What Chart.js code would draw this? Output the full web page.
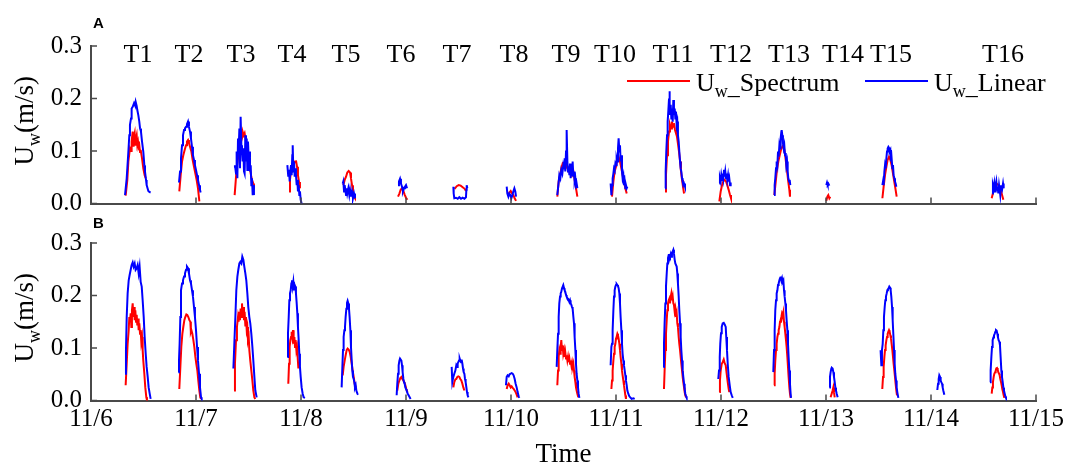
<!DOCTYPE html>
<html><head><meta charset="utf-8">
<script src="https://cdn.jsdelivr.net/npm/chart.js@4.4.1/dist/chart.umd.min.js"></script>
<style>
html,body{margin:0;padding:0;background:#fff;width:1072px;height:468px;overflow:hidden}
canvas{position:absolute;left:0;display:block}
#ca{top:0}#cb{top:210px}
</style></head><body>
<canvas id="ca" width="1072" height="230"></canvas>
<canvas id="cb" width="1072" height="258"></canvas>
<script>
// ---- labels ----
const dateLabels = ['11/6','11/7','11/8','11/9','11/10','11/11','11/12','11/13','11/14','11/15'];
const yTickValues = [0, 0.1, 0.2, 0.3];
const yTickLabels = ['0.0','0.1','0.2','0.3'];
const tideLabels = ['T1','T2','T3','T4','T5','T6','T7','T8','T9','T10','T11','T12','T13','T14','T15','T16'];
const tidePos = [0.448,0.933,1.429,1.914,2.429,2.952,3.486,4.029,4.524,4.990,5.543,6.095,6.648,7.162,7.619,8.686];
const seriesNames = ['Spectrum','Linear'];
const xTitle = 'Time';

// ---- data: [days since 11/6 00:00, Uw (m/s)], one sub-array per tidal cycle ----
const aLinear = [
 [[0.324,.016],[0.340,.048],[0.356,.099],[0.365,.130],[0.371,.150],[0.381,.162],[0.387,.181],[0.397,.184],[0.410,.191],[0.419,.187],[0.425,.194],[0.435,.186],[0.441,.178],[0.451,.168],[0.460,.156],[0.467,.143],[0.476,.137],[0.486,.118],[0.498,.099],[0.508,.073],[0.514,.061],[0.524,.045],[0.530,.035],[0.540,.028],[0.546,.024],[0.556,.022],[0.568,.021]],
 [[0.838,.040],[0.848,.061],[0.857,.086],[0.867,.111],[0.876,.130],[0.886,.140],[0.895,.143],[0.905,.146],[0.914,.151],[0.924,.156],[0.933,.146],[0.943,.137],[0.952,.124],[0.962,.108],[0.971,.092],[0.981,.083],[0.990,.073],[1.000,.064],[1.010,.054],[1.019,.045],[1.029,.035],[1.038,.026],[1.044,.021]],
 [[1.362,.070],[1.371,.073],[1.381,.057],[1.387,.099],[1.394,.048],[1.400,.124],[1.406,.099],[1.413,.143],[1.419,.067],[1.425,.165],[1.432,.111],[1.438,.099],[1.444,.080],[1.451,.105],[1.457,.061],[1.463,.057],[1.470,.130],[1.476,.080],[1.483,.124],[1.489,.064],[1.495,.118],[1.502,.086],[1.508,.099],[1.514,.061],[1.521,.073],[1.527,.035],[1.533,.048],[1.540,.016],[1.546,.035],[1.552,.016]],
 [[1.870,.073],[1.879,.051],[1.886,.064],[1.892,.042],[1.898,.061],[1.905,.073],[1.911,.054],[1.917,.092],[1.921,.111],[1.927,.061],[1.933,.080],[1.940,.051],[1.946,.067],[1.952,.054],[1.959,.035],[1.965,.045],[1.971,.023],[1.978,.035],[1.984,.016],[1.990,.023],[1.997,.007],[2.006,.000]],
 [[2.397,.038],[2.403,.042],[2.410,.023],[2.416,.035],[2.422,.026],[2.429,.016],[2.435,.029],[2.441,.019],[2.451,.029],[2.460,.016],[2.467,.026],[2.476,.013],[2.486,.023],[2.495,.010],[2.505,.019],[2.514,.010]],
 [[2.924,.035],[2.933,.042],[2.943,.047],[2.952,.038],[2.962,.032],[2.971,.023],[2.981,.029],[2.990,.032],[3.000,.035],[3.010,.029]],
 [[3.451,.032],[3.454,.019],[3.460,.010],[3.476,.011],[3.492,.009],[3.508,.012],[3.524,.009],[3.540,.011],[3.556,.009],[3.571,.012],[3.575,.026],[3.578,.035],[3.584,.029]],
 [[3.959,.032],[3.965,.019],[3.975,.013],[3.984,.019],[3.994,.016],[4.003,.010],[4.013,.016],[4.022,.023],[4.032,.029],[4.041,.023],[4.048,.013]],
 [[4.441,.016],[4.451,.035],[4.460,.054],[4.470,.048],[4.479,.064],[4.489,.057],[4.498,.073],[4.505,.067],[4.511,.086],[4.517,.061],[4.524,.099],[4.530,.140],[4.537,.080],[4.543,.061],[4.549,.070],[4.556,.054],[4.562,.076],[4.568,.048],[4.575,.073],[4.581,.054],[4.587,.080],[4.594,.051],[4.600,.061],[4.606,.042],[4.613,.048],[4.619,.035],[4.625,.038],[4.632,.029]],
 [[4.949,.038],[4.956,.016],[4.962,.035],[4.968,.048],[4.975,.057],[4.981,.067],[4.987,.064],[4.994,.076],[5.000,.073],[5.006,.086],[5.013,.080],[5.019,.105],[5.025,.124],[5.032,.099],[5.038,.111],[5.044,.080],[5.051,.092],[5.057,.061],[5.063,.048],[5.070,.054],[5.076,.035],[5.083,.042],[5.089,.029],[5.095,.035],[5.102,.029],[5.108,.032]],
 [[5.467,.029],[5.473,.061],[5.479,.099],[5.486,.130],[5.492,.156],[5.498,.175],[5.505,.200],[5.508,.214],[5.514,.169],[5.521,.188],[5.527,.162],[5.533,.181],[5.540,.156],[5.546,.197],[5.552,.169],[5.559,.181],[5.565,.162],[5.571,.175],[5.578,.150],[5.584,.156],[5.590,.130],[5.597,.118],[5.603,.099],[5.610,.080],[5.616,.067],[5.622,.061],[5.629,.048],[5.635,.042],[5.641,.035],[5.648,.038],[5.657,.032]],
 [[5.984,.038],[5.990,.048],[5.997,.042],[6.003,.054],[6.010,.045],[6.016,.057],[6.022,.048],[6.029,.064],[6.035,.051],[6.041,.061],[6.048,.048],[6.054,.057],[6.060,.045],[6.067,.054],[6.073,.042],[6.079,.048],[6.086,.035],[6.092,.040]],
 [[6.505,.016],[6.511,.035],[6.517,.048],[6.524,.067],[6.530,.080],[6.537,.073],[6.543,.099],[6.549,.089],[6.556,.111],[6.562,.105],[6.568,.124],[6.575,.137],[6.578,.140],[6.584,.130],[6.590,.115],[6.597,.105],[6.603,.111],[6.610,.092],[6.616,.096],[6.622,.073],[6.629,.080],[6.635,.061],[6.641,.048],[6.648,.042],[6.654,.045],[6.660,.035],[6.663,.035]],
 [[7.003,.035],[7.010,.040],[7.016,.036],[7.022,.038],[7.032,.034]],
 [[7.537,.035],[7.543,.042],[7.549,.035],[7.556,.061],[7.562,.073],[7.568,.067],[7.575,.086],[7.581,.099],[7.587,.105],[7.594,.108],[7.600,.106],[7.606,.099],[7.613,.102],[7.619,.080],[7.625,.086],[7.632,.067],[7.638,.073],[7.644,.054],[7.651,.048],[7.657,.042],[7.663,.038],[7.670,.032]],
 [[8.584,.019],[8.590,.035],[8.597,.029],[8.603,.038],[8.610,.023],[8.616,.035],[8.622,.042],[8.629,.026],[8.635,.032],[8.641,.019],[8.648,.035],[8.654,.026],[8.660,.016],[8.667,.032],[8.673,.035],[8.679,.029],[8.686,.038],[8.692,.029]]
];
const aSpectrum = [
 [[0.330,.015],[0.346,.045],[0.356,.080],[0.371,.105],[0.381,.100],[0.387,.118],[0.397,.137],[0.403,.110],[0.406,.125],[0.416,.134],[0.422,.112],[0.425,.121],[0.435,.130],[0.441,.112],[0.448,.118],[0.454,.108],[0.460,.111],[0.467,.098],[0.473,.102],[0.486,.086],[0.498,.067],[0.511,.054],[0.521,.048]],
 [[0.841,.023],[0.854,.054],[0.867,.080],[0.879,.092],[0.892,.102],[0.905,.111],[0.914,.118],[0.924,.121],[0.933,.115],[0.943,.108],[0.956,.099],[0.968,.083],[0.981,.070],[0.994,.057],[1.006,.045],[1.019,.029],[1.032,.004]],
 [[1.368,.016],[1.378,.042],[1.387,.067],[1.400,.086],[1.413,.099],[1.425,.115],[1.438,.124],[1.444,.137],[1.454,.130],[1.463,.134],[1.473,.121],[1.483,.105],[1.495,.089],[1.508,.073],[1.521,.057],[1.533,.045],[1.546,.038],[1.552,.035]],
 [[1.886,.023],[1.895,.045],[1.905,.061],[1.914,.067],[1.924,.073],[1.933,.076],[1.943,.080],[1.952,.082],[1.962,.070],[1.971,.054],[1.981,.041],[1.990,.029]],
 [[2.403,.035],[2.416,.045],[2.429,.051],[2.441,.059],[2.454,.062],[2.467,.059],[2.476,.048],[2.486,.035],[2.495,.022],[2.505,.013],[2.514,.010]],
 [[2.924,.013],[2.937,.019],[2.949,.026],[2.962,.029],[2.975,.024],[2.987,.017],[3.000,.011],[3.013,.007]],
 [[3.463,.028],[3.483,.033],[3.502,.035],[3.521,.034],[3.540,.031],[3.559,.028],[3.571,.024]],
 [[3.972,.016],[3.984,.021],[3.997,.024],[4.010,.019],[4.022,.016],[4.035,.010],[4.048,.005]],
 [[4.441,.013],[4.454,.042],[4.467,.054],[4.479,.067],[4.492,.076],[4.505,.073],[4.517,.067],[4.530,.073],[4.543,.064],[4.556,.070],[4.568,.062],[4.581,.054],[4.594,.061],[4.606,.045],[4.619,.029],[4.632,.013]],
 [[4.962,.013],[4.975,.042],[4.987,.061],[5.000,.070],[5.013,.083],[5.025,.089],[5.038,.080],[5.051,.067],[5.063,.054],[5.076,.042],[5.089,.029],[5.102,.019]],
 [[5.467,.023],[5.476,.054],[5.486,.092],[5.495,.118],[5.505,.137],[5.514,.150],[5.524,.143],[5.533,.156],[5.543,.146],[5.552,.153],[5.562,.140],[5.571,.134],[5.581,.127],[5.590,.114],[5.600,.099],[5.610,.080],[5.619,.061],[5.629,.045],[5.638,.032],[5.648,.019]],
 [[5.984,.004],[5.997,.023],[6.010,.035],[6.022,.042],[6.035,.045],[6.048,.042],[6.060,.035],[6.073,.026],[6.086,.016],[6.095,.010]],
 [[6.508,.016],[6.521,.041],[6.533,.064],[6.546,.080],[6.559,.092],[6.571,.102],[6.584,.108],[6.594,.111],[6.603,.102],[6.613,.089],[6.622,.073],[6.632,.057],[6.641,.041],[6.651,.026],[6.657,.013]],
 [[7.003,.005],[7.013,.013],[7.022,.016],[7.032,.010],[7.041,.013]],
 [[7.537,.010],[7.549,.032],[7.562,.054],[7.575,.070],[7.587,.083],[7.600,.089],[7.613,.083],[7.625,.073],[7.638,.057],[7.651,.041],[7.663,.026],[7.673,.013]],
 [[8.578,.010],[8.594,.023],[8.610,.032],[8.625,.038],[8.641,.035],[8.657,.029],[8.673,.019],[8.689,.007]]
];
const bLinear = [
 [[0.324,.051],[0.333,.096],[0.340,.159],[0.349,.204],[0.359,.229],[0.368,.239],[0.378,.249],[0.387,.258],[0.397,.263],[0.406,.255],[0.416,.261],[0.425,.249],[0.435,.252],[0.444,.258],[0.454,.242],[0.463,.255],[0.473,.226],[0.483,.217],[0.492,.191],[0.502,.159],[0.511,.121],[0.521,.089],[0.530,.064],[0.540,.045],[0.549,.025],[0.559,.013],[0.568,.003]],
 [[0.832,.054],[0.838,.076],[0.844,.108],[0.851,.159],[0.857,.210],[0.867,.223],[0.876,.229],[0.886,.236],[0.895,.242],[0.905,.249],[0.914,.255],[0.924,.252],[0.933,.242],[0.943,.229],[0.952,.223],[0.962,.210],[0.971,.198],[0.981,.178],[0.990,.159],[1.000,.134],[1.010,.102],[1.019,.076],[1.029,.051],[1.038,.025],[1.048,.006],[1.054,.003]],
 [[1.356,.061],[1.365,.108],[1.375,.159],[1.384,.210],[1.394,.236],[1.403,.249],[1.413,.261],[1.422,.264],[1.432,.261],[1.441,.274],[1.451,.268],[1.460,.255],[1.470,.242],[1.479,.229],[1.489,.204],[1.498,.178],[1.508,.159],[1.517,.147],[1.527,.127],[1.537,.102],[1.546,.076],[1.556,.045],[1.565,.019],[1.578,.006]],
 [[1.870,.083],[1.876,.127],[1.883,.159],[1.889,.191],[1.895,.204],[1.902,.210],[1.908,.223],[1.914,.229],[1.921,.217],[1.927,.226],[1.933,.210],[1.940,.220],[1.946,.217],[1.952,.204],[1.959,.185],[1.965,.166],[1.971,.140],[1.978,.115],[1.984,.089],[1.990,.064],[1.997,.045],[2.006,.025],[2.016,.013],[2.025,.006],[2.038,.005]],
 [[2.387,.025],[2.394,.064],[2.400,.096],[2.406,.121],[2.413,.134],[2.419,.140],[2.425,.159],[2.432,.175],[2.438,.186],[2.444,.190],[2.451,.185],[2.457,.175],[2.463,.159],[2.470,.134],[2.476,.102],[2.483,.076],[2.489,.057],[2.495,.045],[2.502,.041],[2.508,.035],[2.514,.025],[2.521,.029],[2.527,.019],[2.537,.013],[2.543,.011]],
 [[2.911,.010],[2.917,.032],[2.924,.051],[2.930,.067],[2.937,.076],[2.943,.080],[2.949,.080],[2.956,.076],[2.962,.067],[2.968,.054],[2.975,.041],[2.981,.035],[2.987,.032],[2.994,.025],[3.000,.022],[3.006,.019],[3.016,.013],[3.025,.010],[3.035,.006],[3.044,.003]],
 [[3.435,.064],[3.441,.035],[3.451,.045],[3.460,.051],[3.470,.057],[3.479,.067],[3.486,.064],[3.492,.070],[3.498,.073],[3.505,.076],[3.511,.080],[3.517,.076],[3.524,.073],[3.530,.078],[3.537,.070],[3.543,.061],[3.549,.054],[3.556,.051],[3.562,.041],[3.568,.035],[3.575,.025],[3.581,.016],[3.587,.010],[3.594,.006]],
 [[3.952,.029],[3.959,.045],[3.968,.048],[3.978,.046],[3.987,.050],[3.997,.051],[4.006,.052],[4.016,.051],[4.025,.048],[4.035,.041],[4.044,.032],[4.054,.025],[4.063,.016],[4.073,.008],[4.079,.005]],
 [[4.435,.064],[4.441,.096],[4.448,.127],[4.454,.159],[4.460,.185],[4.467,.198],[4.473,.204],[4.479,.207],[4.486,.214],[4.492,.217],[4.498,.220],[4.505,.214],[4.511,.210],[4.517,.207],[4.524,.201],[4.530,.198],[4.537,.194],[4.543,.194],[4.549,.191],[4.556,.188],[4.562,.191],[4.568,.185],[4.575,.182],[4.581,.178],[4.587,.175],[4.594,.159],[4.600,.147],[4.606,.121],[4.613,.096],[4.619,.070],[4.625,.051],[4.632,.038],[4.638,.025],[4.644,.013],[4.651,.005]],
 [[4.949,.067],[4.956,.102],[4.962,.108],[4.968,.134],[4.975,.172],[4.981,.198],[4.987,.210],[4.994,.217],[5.000,.220],[5.006,.222],[5.013,.220],[5.019,.218],[5.025,.214],[5.032,.204],[5.038,.185],[5.044,.159],[5.051,.134],[5.057,.108],[5.063,.089],[5.070,.076],[5.076,.067],[5.083,.057],[5.089,.048],[5.095,.038],[5.102,.029],[5.108,.019],[5.117,.013],[5.127,.008],[5.140,.005],[5.149,.003],[5.165,.004],[5.178,.003]],
 [[5.451,.064],[5.457,.108],[5.463,.147],[5.470,.185],[5.476,.217],[5.483,.242],[5.489,.261],[5.495,.271],[5.502,.277],[5.508,.277],[5.514,.274],[5.521,.279],[5.527,.274],[5.533,.280],[5.540,.284],[5.546,.287],[5.552,.280],[5.559,.268],[5.565,.261],[5.571,.261],[5.578,.255],[5.584,.242],[5.590,.223],[5.597,.198],[5.603,.172],[5.610,.147],[5.616,.121],[5.622,.096],[5.629,.076],[5.635,.057],[5.641,.045],[5.648,.032],[5.654,.022],[5.660,.013],[5.667,.008],[5.673,.005]],
 [[5.974,.041],[5.981,.057],[5.988,.083],[5.993,.108],[6.000,.128],[6.007,.140],[6.016,.147],[6.026,.148],[6.035,.145],[6.045,.140],[6.050,.121],[6.057,.096],[6.064,.070],[6.073,.045],[6.083,.029],[6.092,.016],[6.102,.010],[6.112,.005]],
 [[6.498,.054],[6.505,.096],[6.511,.134],[6.517,.172],[6.524,.191],[6.530,.204],[6.537,.210],[6.543,.220],[6.549,.223],[6.556,.229],[6.562,.233],[6.568,.236],[6.575,.229],[6.581,.233],[6.587,.226],[6.594,.229],[6.600,.210],[6.606,.198],[6.613,.185],[6.619,.172],[6.625,.153],[6.632,.134],[6.638,.108],[6.644,.083],[6.651,.057],[6.657,.032],[6.663,.013],[6.667,.005]],
 [[7.032,.025],[7.038,.045],[7.044,.054],[7.051,.061],[7.057,.062],[7.063,.061],[7.070,.054],[7.076,.045],[7.083,.035],[7.089,.025],[7.095,.019],[7.102,.013],[7.111,.006]],
 [[7.520,.096],[7.527,.067],[7.533,.096],[7.540,.108],[7.546,.134],[7.552,.159],[7.559,.178],[7.565,.191],[7.571,.198],[7.578,.204],[7.584,.210],[7.590,.212],[7.597,.214],[7.603,.217],[7.610,.215],[7.616,.210],[7.622,.198],[7.629,.178],[7.635,.153],[7.641,.127],[7.648,.096],[7.654,.070],[7.660,.051],[7.667,.038],[7.673,.025],[7.679,.016],[7.689,.005]],
 [[8.060,.020],[8.067,.032],[8.073,.041],[8.079,.048],[8.086,.045],[8.092,.038],[8.098,.035],[8.105,.032],[8.111,.025],[8.117,.019],[8.127,.011]],
 [[8.562,.035],[8.568,.057],[8.575,.083],[8.581,.102],[8.587,.115],[8.594,.120],[8.600,.124],[8.606,.127],[8.613,.131],[8.619,.134],[8.625,.133],[8.632,.127],[8.638,.120],[8.644,.115],[8.651,.112],[8.657,.105],[8.663,.083],[8.670,.057],[8.676,.045],[8.683,.035],[8.689,.025],[8.695,.019],[8.702,.013],[8.708,.008],[8.714,.005]]
];
const bSpectrum = [
 [[0.330,.029],[0.340,.070],[0.349,.108],[0.359,.134],[0.365,.159],[0.371,.150],[0.378,.166],[0.384,.140],[0.390,.172],[0.397,.185],[0.403,.159],[0.410,.178],[0.416,.153],[0.422,.172],[0.429,.150],[0.435,.163],[0.441,.143],[0.448,.156],[0.454,.134],[0.460,.147],[0.467,.127],[0.473,.134],[0.479,.112],[0.486,.121],[0.492,.096],[0.498,.076],[0.508,.051],[0.517,.025],[0.527,.006],[0.533,.001]],
 [[0.841,.022],[0.851,.064],[0.860,.102],[0.870,.127],[0.879,.140],[0.889,.153],[0.898,.159],[0.908,.164],[0.917,.163],[0.927,.159],[0.937,.153],[0.946,.150],[0.951,.131],[0.956,.134],[0.965,.127],[0.975,.115],[0.984,.102],[0.994,.083],[1.003,.070],[1.013,.057],[1.022,.038],[1.032,.019],[1.041,.006],[1.048,.003]],
 [[1.362,.019],[1.371,.070],[1.381,.115],[1.390,.140],[1.400,.159],[1.406,.150],[1.413,.169],[1.419,.153],[1.425,.175],[1.432,.159],[1.438,.185],[1.444,.166],[1.451,.178],[1.457,.153],[1.463,.169],[1.470,.143],[1.476,.159],[1.483,.134],[1.489,.140],[1.495,.115],[1.502,.121],[1.508,.096],[1.517,.076],[1.527,.057],[1.537,.038],[1.546,.019],[1.556,.006],[1.565,.003]],
 [[1.879,.032],[1.886,.070],[1.892,.102],[1.898,.115],[1.905,.121],[1.911,.131],[1.917,.121],[1.924,.134],[1.930,.108],[1.937,.121],[1.943,.102],[1.949,.115],[1.956,.096],[1.962,.102],[1.968,.083],[1.975,.061]],
 [[2.397,.048],[2.406,.064],[2.416,.076],[2.425,.086],[2.435,.096],[2.444,.099],[2.454,.097],[2.463,.093],[2.473,.083],[2.483,.070],[2.492,.057],[2.502,.045],[2.511,.032],[2.521,.025]],
 [[2.917,.019],[2.927,.032],[2.937,.038],[2.946,.043],[2.956,.045],[2.965,.041],[2.975,.038],[2.984,.035],[2.994,.029],[3.003,.022],[3.013,.016]],
 [[3.451,.025],[3.460,.035],[3.470,.040],[3.479,.041],[3.489,.045],[3.498,.046],[3.508,.045],[3.517,.041],[3.527,.038],[3.537,.032],[3.546,.025],[3.556,.019]],
 [[3.959,.022],[3.968,.029],[3.978,.032],[3.987,.029],[3.997,.025],[4.006,.027],[4.016,.024],[4.025,.022],[4.035,.019],[4.044,.016],[4.054,.011],[4.063,.006]],
 [[4.441,.029],[4.448,.057],[4.454,.083],[4.460,.096],[4.467,.089],[4.473,.102],[4.479,.115],[4.486,.096],[4.492,.105],[4.498,.089],[4.505,.096],[4.511,.083],[4.517,.092],[4.524,.080],[4.530,.086],[4.537,.076],[4.543,.083],[4.549,.073],[4.556,.080],[4.562,.070],[4.568,.076],[4.575,.067],[4.581,.073],[4.587,.064],[4.594,.070],[4.600,.057],[4.606,.045],[4.613,.035],[4.619,.025],[4.625,.019],[4.632,.013],[4.641,.006]],
 [[4.956,.022],[4.962,.038],[4.968,.057],[4.975,.076],[4.981,.089],[4.987,.102],[4.994,.108],[5.000,.118],[5.006,.121],[5.013,.127],[5.019,.124],[5.025,.118],[5.032,.108],[5.038,.096],[5.044,.083],[5.051,.070],[5.057,.057],[5.063,.048],[5.070,.038],[5.076,.029],[5.083,.019],[5.089,.010],[5.095,.003]],
 [[5.457,.022],[5.463,.057],[5.470,.096],[5.476,.127],[5.483,.153],[5.489,.172],[5.495,.185],[5.502,.191],[5.508,.194],[5.514,.185],[5.521,.198],[5.527,.204],[5.533,.191],[5.540,.198],[5.546,.185],[5.552,.182],[5.559,.169],[5.565,.175],[5.571,.159],[5.578,.166],[5.584,.147],[5.590,.140],[5.597,.121],[5.603,.108],[5.610,.096],[5.616,.083],[5.622,.070],[5.629,.057],[5.635,.045],[5.641,.035],[5.648,.025],[5.654,.016],[5.660,.010],[5.667,.006]],
 [[5.984,.016],[5.990,.038],[5.997,.057],[6.007,.070],[6.016,.073],[6.026,.078],[6.035,.071],[6.045,.067],[6.054,.051],[6.064,.035],[6.073,.022],[6.079,.016]],
 [[6.505,.029],[6.511,.051],[6.517,.076],[6.524,.096],[6.530,.108],[6.537,.121],[6.543,.127],[6.549,.134],[6.556,.140],[6.562,.150],[6.568,.153],[6.575,.159],[6.581,.166],[6.587,.163],[6.594,.169],[6.600,.150],[6.606,.140],[6.613,.127],[6.619,.115],[6.625,.102],[6.632,.083],[6.638,.064],[6.644,.045],[6.651,.025],[6.657,.013],[6.663,.005]],
 [[7.044,.006],[7.054,.013],[7.063,.019],[7.070,.025],[7.076,.016],[7.083,.006]],
 [[7.536,.022],[7.543,.045],[7.549,.064],[7.556,.083],[7.562,.096],[7.568,.105],[7.575,.115],[7.581,.121],[7.587,.127],[7.594,.131],[7.600,.134],[7.606,.131],[7.613,.124],[7.619,.118],[7.625,.108],[7.632,.096],[7.638,.083],[7.644,.070],[7.651,.057],[7.657,.045],[7.663,.032],[7.670,.019],[7.676,.010]],
 [[8.578,.013],[8.584,.025],[8.590,.035],[8.597,.045],[8.603,.051],[8.610,.054],[8.616,.057],[8.622,.061],[8.629,.062],[8.635,.059],[8.641,.054],[8.648,.051],[8.654,.048],[8.660,.041],[8.667,.035],[8.673,.029],[8.679,.022],[8.686,.016],[8.692,.010],[8.698,.005]]
];

// ---- rendering ----
const SERIF = '"Liberation Serif","Times New Roman",serif';
const AXIS = '#4a4a4a';
const RED = '#ff0000', BLUE = '#0000ff';

function toPoints(blobs){
  const out = [];
  blobs.forEach((blob, i) => {
    if (i > 0) out.push({x: blob[0][0] - 0.001, y: null});
    blob.forEach(p => out.push({x: p[0], y: p[1]}));
  });
  return out;
}

function drawSubLabel(ctx, x, y, main, sub, rest, fs, ss, subDy){
  ctx.font = fs + 'px ' + SERIF;
  ctx.fillText(main, x, y);
  const w1 = ctx.measureText(main).width;
  ctx.font = ss + 'px ' + SERIF;
  ctx.fillText(sub, x + w1, y + subDy);
  const w2 = ctx.measureText(sub).width;
  ctx.font = fs + 'px ' + SERIF;
  ctx.fillText(rest, x + w1 + w2, y);
}

const decor = {
  id: 'decor',
  afterDraw(chart, args, o){
    const {ctx, chartArea: ca, scales: {x, y}} = chart;
    ctx.save();
    ctx.strokeStyle = AXIS; ctx.lineWidth = 1.5;
    ctx.beginPath();
    yTickValues.forEach(v => { const py = y.getPixelForValue(v); ctx.moveTo(ca.left, py); ctx.lineTo(ca.left + 6, py); });
    dateLabels.forEach((_, i) => { const px = x.getPixelForValue(i); ctx.moveTo(px, ca.bottom); ctx.lineTo(px, ca.bottom - 6); });
    ctx.stroke();
    ctx.fillStyle = '#000'; ctx.textAlign = 'left'; ctx.textBaseline = 'alphabetic';
    ctx.font = 'bold 15px "Liberation Sans", Arial, sans-serif';
    ctx.fillText(o.letter, ca.left + 2, o.letterY);
    ctx.save();
    ctx.font = '27px ' + SERIF; const wU = ctx.measureText('U').width, wR = ctx.measureText('(m/s)').width;
    ctx.font = '18px ' + SERIF; const wW = ctx.measureText('w').width;
    const tot = wU + wW + wR;
    const cy = (ca.top + ca.bottom) / 2 - 4;
    ctx.translate(33, cy + tot / 2);
    ctx.rotate(-Math.PI / 2);
    drawSubLabel(ctx, 0, 0, 'U', 'w', '(m/s)', 27, 18, 7);
    ctx.restore();
    if (o.tides) {
      ctx.font = '26px ' + SERIF; ctx.textAlign = 'center';
      tideLabels.forEach((t, i) => ctx.fillText(t, x.getPixelForValue(tidePos[i]), ca.top + 16));
      ctx.textAlign = 'left';
    }
    if (o.legend) {
      const items = [{c: RED, n: seriesNames[0], x0: 627}, {c: BLUE, n: seriesNames[1], x0: 865}];
      items.forEach(it => {
        ctx.strokeStyle = it.c; ctx.lineWidth = 2;
        ctx.beginPath(); ctx.moveTo(it.x0, 81); ctx.lineTo(it.x0 + 63, 81); ctx.stroke();
        let tx = it.x0 + 69;
        ctx.fillStyle = '#000';
        ctx.font = '26px ' + SERIF; ctx.fillText('U', tx, 91); tx += ctx.measureText('U').width;
        ctx.font = '18px ' + SERIF; ctx.fillText('w', tx, 97); tx += ctx.measureText('w').width;
        ctx.font = '24px ' + SERIF; ctx.fillText('_', tx, 94); tx += ctx.measureText('_').width;
        ctx.font = '26px ' + SERIF; ctx.fillText(it.n, tx, 91);
      });
    }
    ctx.restore();
  }
};

function makeChart(id, spec, lin, cfg){
  return new Chart(document.getElementById(id), {
    type: 'line',
    data: {datasets: [
      {label: seriesNames[1], data: toPoints(lin), borderColor: BLUE, borderWidth: 2, pointRadius: 0, tension: 0, spanGaps: false, order: 0},
      {label: seriesNames[0], data: toPoints(spec), borderColor: RED, borderWidth: 2, pointRadius: 0, tension: 0, spanGaps: false, order: 1}
    ]},
    options: {
      responsive: false, animation: false, devicePixelRatio: 1,
      layout: {padding: {top: cfg.top, right: 36, left: 0, bottom: 0}},
      plugins: {legend: {display: false}, tooltip: {enabled: false}, decor: cfg.decor},
      scales: {
        x: {type: 'linear', min: 0, max: dateLabels.length - 1,
            afterFit: s => { s.height = cfg.xh; },
            afterBuildTicks: s => { s.ticks = dateLabels.map((_, i) => ({value: i})); },
            grid: {display: false, drawTicks: false},
            border: {display: true, color: AXIS, width: 2},
            ticks: {display: cfg.xLabels, padding: 4, maxRotation: 0, autoSkip: false, color: '#000',
                    font: {family: SERIF, size: 25}, callback: (v, i) => dateLabels[i]},
            title: {display: cfg.xLabels, text: xTitle, color: '#000', padding: 0,
                    font: {family: SERIF, size: 27, lineHeight: 1}}},
        y: {min: 0, max: 0.3,
            afterFit: s => { s.width = 91; },
            afterBuildTicks: s => { s.ticks = yTickValues.map(v => ({value: v})); },
            grid: {display: false, drawTicks: false},
            border: {display: true, color: AXIS, width: 2},
            ticks: {padding: 9, color: '#000', font: {family: SERIF, size: 25}, callback: (v, i) => yTickLabels[i]}}
      }
    },
    plugins: [decor]
  });
}

makeChart('ca', aSpectrum, aLinear, {top: 46, xh: 26.5, xLabels: false,
  decor: {letter: 'A', letterY: 28, tides: true, legend: true}});
makeChart('cb', bSpectrum, bLinear, {top: 33, xh: 67.5, xLabels: true,
  decor: {letter: 'B', letterY: 18, tides: false, legend: false}});
</script>
</body></html>
